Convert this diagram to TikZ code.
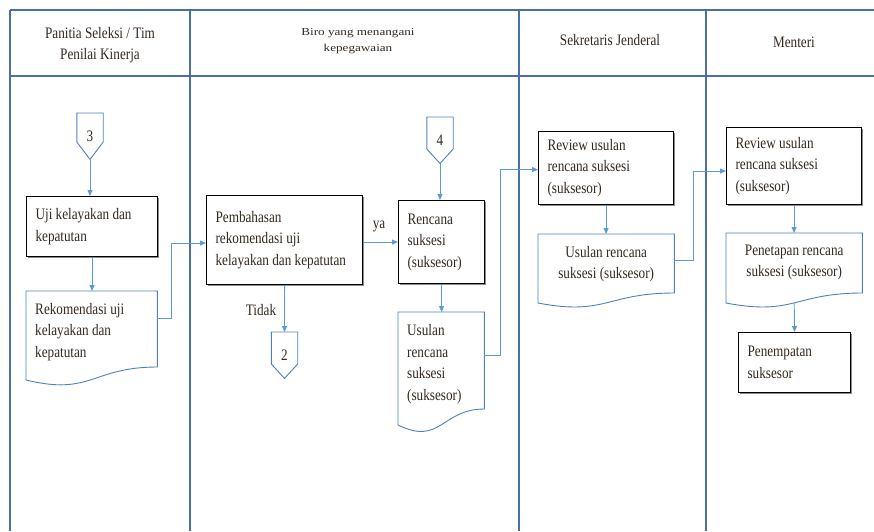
\documentclass[tikz,border=0pt]{standalone}
\usepackage{fontspec}
\usepackage{graphicx}
\setmainfont{Liberation Serif}[FakeStretch=0.825]
\newfontfamily\birofont{Liberation Serif}[FakeStretch=1.24]
\usetikzlibrary{calc,arrows.meta,shadows}
\definecolor{lane}{HTML}{4A6FA5}
\definecolor{connc}{HTML}{5B9BD5}
\definecolor{docb}{HTML}{4F81BD}
\definecolor{txt}{HTML}{33291F}
\newcommand\mainsz{\fontsize{16}{21.5}\selectfont}
\begin{document}
\begin{tikzpicture}[x=1pt,y=-1pt,
  every node/.style={text=txt, font=\mainsz},
  lanel/.style={draw=lane, line width=1.4pt},
  box/.style={draw=black, line width=1.1pt, fill=white,
    drop shadow={shadow xshift=1.2pt, shadow yshift=-1.2pt, fill=black!45, opacity=1},
    anchor=north west, align=flush left, inner xsep=9pt, inner ysep=2pt},
  doctext/.style={anchor=north west, inner xsep=9pt, inner ysep=2pt},
  docline/.style={draw=docb, line width=0.9pt},
  conline/.style={draw=connc, line width=0.9pt},
  arr/.style={conline, -{Triangle[length=6pt,width=5pt]}},
  offp/.style={draw=docb, line width=0.9pt},
  offnode/.style={minimum width=26pt, minimum height=46pt, inner sep=0pt, anchor=north},
]
\useasboundingbox (0,0) rectangle (874,531);

% swimlanes
\draw[lanel] (10,10) -- (874,10);
\draw[lanel] (10,76) -- (874,76);
\foreach \xx in {10,190,519,706} \draw[lanel] (\xx,10) -- (\xx,531);

% headers
\node[align=center] (h1) at (100,45) {Panitia Seleksi / Tim\\Penilai Kinerja};
\node[align=center, font=\birofont\fontsize{10.6}{16}\selectfont] (h2) at (358,41)
  {Biro yang menangani\\kepegawaian};
\node (h3) at (610,40) {Sekretaris Jenderal};
\node (h4) at (794,42) {Menteri};

% column 1
\node[offnode] (c3) at (90,113) {3};
\draw[offp] (c3.north west) -- (c3.north east) -- ($(c3.north east)+(0,29)$) -- (c3.south) -- ($(c3.north west)+(0,29)$) -- cycle;
\node[box, minimum width=131pt, minimum height=60pt, text width=113pt] (uji) at (26,196) {Uji kelayakan dan\\kepatutan};
\node[doctext, minimum width=131pt, minimum height=81pt, text width=113pt, align=flush left] (rek) at (26,291) {Rekomendasi uji\\kelayakan dan\\kepatutan};
\draw[docline] (rek.north west) -- (rek.north east) -- ($(rek.north east)+(0,76)$) .. controls +(-65.5,0) and +(65.5,16) .. ($(rek.north west)+(0,89)$) -- cycle;

% column 2
\node[box, minimum width=156pt, minimum height=89pt, text width=138pt] (pemb) at (206,195) {Pembahasan\\rekomendasi uji\\kelayakan dan kepatutan};
\node[offnode] (c2) at (284.5,332) {2};
\draw[offp] (c2.north west) -- (c2.north east) -- ($(c2.north east)+(0,32)$) -- (c2.south) -- ($(c2.north west)+(0,32)$) -- cycle;
\node[offnode] (c4) at (440,117) {4};
\draw[offp] (c4.north west) -- (c4.north east) -- ($(c4.north east)+(0,32)$) -- (c4.south) -- ($(c4.north west)+(0,32)$) -- cycle;
\node[box, minimum width=86pt, minimum height=83pt, text width=68pt] (ren) at (398,200) {Rencana\\suksesi\\(suksesor)};
\node[doctext, minimum width=86pt, minimum height=104pt, text width=68pt, align=flush left] (usm) at (398,312) {Usulan\\rencana\\suksesi\\(suksesor)};
\draw[docline] (usm.north west) -- (usm.north east) -- ($(usm.north east)+(0,97)$) .. controls +(-43,0) and +(43,21) .. ($(usm.north west)+(0,113)$) -- cycle;
\node (ya) at (379,226) {ya};
\node (tidak) at (261,310) {Tidak};

% column 3
\node[box, minimum width=135pt, minimum height=73pt, text width=117pt] (rev1) at (538,131) {Review usulan\\rencana suksesi\\(suksesor)};
\node[doctext, minimum width=136pt, minimum height=60pt, text width=118pt, align=flush center] (sdoc) at (538,234) {Usulan rencana\\suksesi (suksesor)};
\draw[docline] (sdoc.north west) -- (sdoc.north east) -- ($(sdoc.north east)+(0,59)$) .. controls +(-68,0) and +(68,13) .. ($(sdoc.north west)+(0,69)$) -- cycle;

% column 4
\node[box, minimum width=135pt, minimum height=77pt, text width=117pt] (rev2) at (726,127) {Review usulan\\rencana suksesi\\(suksesor)};
\node[doctext, minimum width=136pt, minimum height=59pt, text width=118pt, align=flush center] (mdoc) at (726,233) {Penetapan rencana\\suksesi (suksesor)};
\draw[docline] (mdoc.north west) -- (mdoc.north east) -- ($(mdoc.north east)+(0,60)$) .. controls +(-68,0) and +(68,13) .. ($(mdoc.north west)+(0,70)$) -- cycle;
\node[box, minimum width=112pt, minimum height=60pt, text width=94pt] (pen) at (738,332) {Penempatan\\suksesor};

% connectors
\draw[arr] (c3.south) -- (c3.south |- uji.north);
\draw[arr] (uji.south) -- (uji.south |- rek.north);
\draw[arr] ($(rek.north east)+(0,27)$) -- ++(14,0) |- ($(pemb.west)+(0,3)$);
\draw[arr] (pemb.east |- ren.west) -- (ren.west);
\draw[arr] (pemb.south) -- (c2.north);
\draw[arr] (c4.south) -- (c4.south |- ren.north);
\draw[arr] (ren.south) -- (ren.south |- usm.north);
\draw[arr] ($(usm.north east)+(0,43)$) -- ++(16,0) |- ($(rev1.west)+(0,1.5)$);
\draw[arr] (rev1.south) -- (rev1.south |- sdoc.north);
\draw[arr] ($(sdoc.north east)+(0,26)$) -- ++(19,0) |- ($(rev2.west)+(0,5)$);
\draw[arr] (rev2.south) -- (rev2.south |- mdoc.north);
\draw[arr] ($(mdoc.north)+(0,70)$) -- (pen.north);
\end{tikzpicture}
\end{document}
